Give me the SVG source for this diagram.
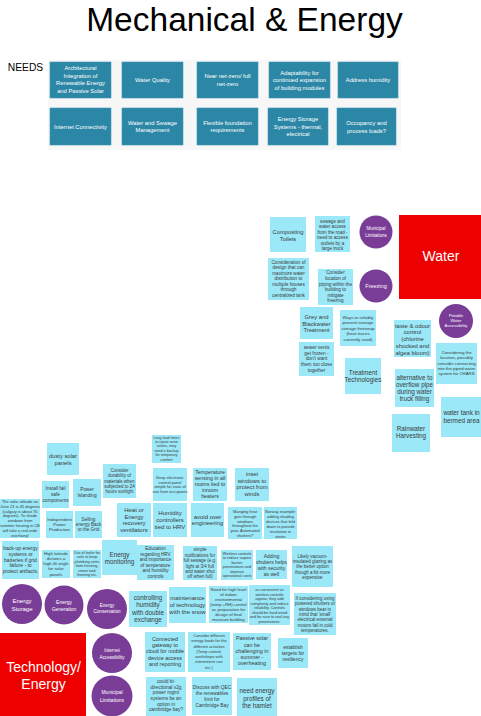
<svg xmlns="http://www.w3.org/2000/svg" width="481" height="716" viewBox="0 0 481 716">
<style>
text{font-family:"Liberation Sans",Arial,sans-serif;text-anchor:middle}
.n{fill:#9be8f8}
.t{fill:#3a3a3a}
.c{fill:#7a3d97}
.ct{fill:#fff}
.need{fill:#2c87a6;stroke:#3d98b5;stroke-width:0.6}
.nt{fill:#fff;font-size:5.8px}
.red{fill:#ee0000}
.rt{fill:#fff}
.bg{fill:#f7f7f7}
</style>
<rect width="481" height="716" fill="#fff"/>
<text x="244.5" y="30.5" style="font-size:33.5px" fill="#000">Mechanical &amp; Energy</text>
<text x="25.5" y="71" style="font-size:10.3px" fill="#000">NEEDS</text>
<rect class="bg" x="48" y="60" width="353" height="90"/>
<g id="need1"><rect class="need" x="50" y="62" width="61" height="36"/><text class="nt" x="80.5" y="70.3"><tspan x="80.5">Architectural</tspan><tspan x="80.5" dy="7.5">Integration of</tspan><tspan x="80.5" dy="7.5">Renewable Energy</tspan><tspan x="80.5" dy="7.5">and Passive Solar</tspan></text></g>
<g id="need2"><rect class="need" x="122" y="62" width="61" height="36"/><text class="nt" x="152.5" y="82">Water Quality</text></g>
<g id="need3"><rect class="need" x="197" y="62" width="61" height="36"/><text class="nt" x="227.5" y="78"><tspan x="227.5">Near net-zero/ full</tspan><tspan x="227.5" dy="7.7">net-zero</tspan></text></g>
<g id="need4"><rect class="need" x="269" y="62" width="61" height="36"/><text class="nt" x="299.5" y="74.7"><tspan x="299.5">Adaptability for</tspan><tspan x="299.5" dy="7.5">continued expansion</tspan><tspan x="299.5" dy="7.5">of building modules</tspan></text></g>
<g id="need5"><rect class="need" x="338" y="62" width="60" height="36"/><text class="nt" x="368" y="82">Address humidity</text></g>
<g id="need6"><rect class="need" x="50" y="108" width="61" height="37"/><text class="nt" x="80.5" y="128.7">Internet Connectivity</text></g>
<g id="need7"><rect class="need" x="122" y="108" width="61" height="37"/><text class="nt" x="152.5" y="124.7"><tspan x="152.5">Water and Sewage</tspan><tspan x="152.5" dy="7.4">Management</tspan></text></g>
<g id="need8"><rect class="need" x="197" y="108" width="61" height="37"/><text class="nt" x="227.5" y="124.7"><tspan x="227.5">Flexible foundation</tspan><tspan x="227.5" dy="7.4">requirements</tspan></text></g>
<g id="need9"><rect class="need" x="268" y="108" width="60" height="37"/><text class="nt" x="298" y="121"><tspan x="298">Energy Storage</tspan><tspan x="298" dy="7.6">Systems - thermal,</tspan><tspan x="298" dy="7.6">electrical</tspan></text></g>
<g id="need10"><rect class="need" x="337" y="108" width="59" height="37"/><text class="nt" x="366.5" y="125.3"><tspan x="366.5">Occupancy and</tspan><tspan x="366.5" dy="7.4">process loads?</tspan></text></g>

<g id="water"><rect class="red" x="399" y="215" width="82" height="84"/><text class="rt" x="441" y="261.3" style="font-size:14px">Water</text></g>
<g id="tech-energy"><rect class="red" x="0" y="633" width="86" height="83"/><text class="rt" x="43.5" y="672.3" style="font-size:14px"><tspan x="43.5">Technology/</tspan><tspan x="43.5" dy="16.7">Energy</tspan></text></g>

<g id="c-municipal-water"><circle class="c" cx="376" cy="232" r="16.5"/><text class="ct" x="376" y="230.2" style="font-size:4.5px"><tspan x="376">Municipal</tspan><tspan x="376" dy="6.6">Limitations</tspan></text></g>
<g id="c-freezing"><circle class="c" cx="376" cy="286" r="16.5"/><text class="ct" x="376" y="288" style="font-size:5.5px">Freezing</text></g>
<g id="c-potable"><circle class="c" cx="456" cy="321" r="17"/><text class="ct" x="456" y="317" style="font-size:4.2px"><tspan x="456">Potable</tspan><tspan x="456" dy="5.2">Water</tspan><tspan x="456" dy="5.2">Accessibility</tspan></text></g>
<g id="c-storage"><circle class="c" cx="22" cy="604" r="20"/><text class="ct" x="22" y="602.7" style="font-size:6px"><tspan x="22">Energy</tspan><tspan x="22" dy="8.3">Storage</tspan></text></g>
<g id="c-generation"><circle class="c" cx="64" cy="605" r="19.5"/><text class="ct" x="64" y="604.4" style="font-size:5px"><tspan x="64">Energy</tspan><tspan x="64" dy="6.3">Generation</tspan></text></g>
<g id="c-conservation"><circle class="c" cx="107" cy="609" r="20"/><text class="ct" x="107" y="606.6" style="font-size:4.6px"><tspan x="107">Energy</tspan><tspan x="107" dy="6.7">Conservation</tspan></text></g>
<g id="c-internet"><circle class="c" cx="112" cy="653" r="20"/><text class="ct" x="112" y="651.6" style="font-size:4.6px"><tspan x="112">Internet</tspan><tspan x="112" dy="7">Accessibility</tspan></text></g>
<g id="c-municipal-tech"><circle class="c" cx="112" cy="696" r="20.5"/><text class="ct" x="112" y="694.4" style="font-size:5px"><tspan x="112">Municipal</tspan><tspan x="112" dy="7.3">Limitations</tspan></text></g>

<g id="s1"><rect class="n" x="270" y="217" width="36" height="35"/><text class="t" x="288" y="234" style="font-size:5.8px"><tspan x="288">Composting</tspan><tspan x="288" dy="6.7">Toilets</tspan></text></g>
<g id="s2"><rect class="n" x="315" y="216" width="35" height="36"/><text class="t" x="332.5" y="222.7" style="font-size:4.6px"><tspan x="332.5">sewage and</tspan><tspan x="332.5" dy="5.5">water access</tspan><tspan x="332.5" dy="5.5">from the road -</tspan><tspan x="332.5" dy="5.5">need to access</tspan><tspan x="332.5" dy="5.5">outlets by a</tspan><tspan x="332.5" dy="5.5">large truck</tspan></text></g>
<g id="s3"><rect class="n" x="268" y="258" width="41" height="42"/><text class="t" x="288.5" y="263.8" style="font-size:4.7px"><tspan x="288.5">Consideration of</tspan><tspan x="288.5" dy="5.5">design that can</tspan><tspan x="288.5" dy="5.5">maximize water</tspan><tspan x="288.5" dy="5.5">distribution to</tspan><tspan x="288.5" dy="5.5">multiple houses</tspan><tspan x="288.5" dy="5.5">through</tspan><tspan x="288.5" dy="5.5">centralized tank</tspan></text></g>
<g id="s4"><rect class="n" x="318" y="269" width="35" height="36"/><text class="t" x="335.5" y="274.4" style="font-size:4.6px"><tspan x="335.5">Consider</tspan><tspan x="335.5" dy="5.6">location of</tspan><tspan x="335.5" dy="5.6">piping within the</tspan><tspan x="335.5" dy="5.6">building to</tspan><tspan x="335.5" dy="5.6">mitigate</tspan><tspan x="335.5" dy="5.6">freezing</tspan></text></g>
<g id="s5"><rect class="n" x="300" y="307" width="33" height="32"/><text class="t" x="316.5" y="319" style="font-size:5.8px"><tspan x="316.5">Grey and</tspan><tspan x="316.5" dy="6.7">Blackwater</tspan><tspan x="316.5" dy="6.7">Treatment</tspan></text></g>
<g id="s6"><rect class="n" x="340" y="310" width="36" height="36"/><text class="t" x="358" y="318.7" style="font-size:4.4px"><tspan x="358">Ways to reliably</tspan><tspan x="358" dy="5.5">prevent sewage</tspan><tspan x="358" dy="5.5">storage freezeup</tspan><tspan x="358" dy="5.5">(heat traces</tspan><tspan x="358" dy="5.5">currently used)</tspan></text></g>
<g id="s7"><rect class="n" x="394" y="320" width="37" height="37"/><text class="t" x="412.5" y="327.7" style="font-size:5.9px"><tspan x="412.5">taste &amp; odour</tspan><tspan x="412.5" dy="6.7">control</tspan><tspan x="412.5" dy="6.7">(chlorine</tspan><tspan x="412.5" dy="6.7">shocked and</tspan><tspan x="412.5" dy="6.7">algea bloom)</tspan></text></g>
<g id="s8"><rect class="n" x="299" y="342" width="35" height="34"/><text class="t" x="316.5" y="348.8" style="font-size:4.8px"><tspan x="316.5">sewer vents</tspan><tspan x="316.5" dy="5.8">get frozen -</tspan><tspan x="316.5" dy="5.8">don't want</tspan><tspan x="316.5" dy="5.8">them too close</tspan><tspan x="316.5" dy="5.8">together</tspan></text></g>
<g id="s9"><rect class="n" x="436" y="343" width="41" height="41"/><text class="t" x="456.5" y="354.1" style="font-size:4.3px"><tspan x="456.5">Considering the</tspan><tspan x="456.5" dy="5.3">location, possibly</tspan><tspan x="456.5" dy="5.3">consider connecting</tspan><tspan x="456.5" dy="5.3">into the piped water</tspan><tspan x="456.5" dy="5.3">system for CHARS</tspan></text></g>
<g id="s10"><rect class="n" x="345" y="358" width="36" height="36"/><text class="t" x="363" y="374.8" style="font-size:6.3px"><tspan x="363">Treatment</tspan><tspan x="363" dy="7.3">Technologies</tspan></text></g>
<g id="s11"><rect class="n" x="395" y="369" width="39" height="38"/><text class="t" x="414.5" y="379.5" style="font-size:6.3px"><tspan x="414.5">alternative to</tspan><tspan x="414.5" dy="7.3">overflow pipe</tspan><tspan x="414.5" dy="7.3">during water</tspan><tspan x="414.5" dy="7.3">truck filling</tspan></text></g>
<g id="s12"><rect class="n" x="441" y="397" width="40" height="40"/><text class="t" x="461.5" y="415" style="font-size:6.4px"><tspan x="461.5">water tank in</tspan><tspan x="461.5" dy="8">bermed area</tspan></text></g>
<g id="s13"><rect class="n" x="392" y="414" width="38" height="38"/><text class="t" x="411" y="430.8" style="font-size:6.3px"><tspan x="411">Rainwater</tspan><tspan x="411" dy="7.3">Harvesting</tspan></text></g>
<g id="s14"><rect class="n" x="47" y="443" width="32" height="32"/><text class="t" x="63" y="457.8" style="font-size:5.8px"><tspan x="63">dusty solar</tspan><tspan x="63" dy="6.7">panels</tspan></text></g>
<g id="s15"><rect class="n" x="152" y="435" width="29" height="28"/><text class="t" x="166.5" y="438.5" style="font-size:3.7px"><tspan x="166.5">Long lead times</tspan><tspan x="166.5" dy="4.4">to repair zone</tspan><tspan x="166.5" dy="4.4">valves, may</tspan><tspan x="166.5" dy="4.4">need a backup</tspan><tspan x="166.5" dy="4.4">for temporary</tspan><tspan x="166.5" dy="4.4">comfort</tspan></text></g>
<g id="s16"><rect class="n" x="103" y="464" width="33" height="34"/><text class="t" x="119.5" y="472" style="font-size:4.5px"><tspan x="119.5">Consider</tspan><tspan x="119.5" dy="5.3">durability of</tspan><tspan x="119.5" dy="5.3">materials when</tspan><tspan x="119.5" dy="5.3">subjected to 24</tspan><tspan x="119.5" dy="5.3">hours sunlight</tspan></text></g>
<g id="s17"><rect class="n" x="153" y="468" width="34" height="33"/><text class="t" x="170" y="478.7" style="font-size:4px"><tspan x="170">Keep electronic</tspan><tspan x="170" dy="4.8">control panel</tspan><tspan x="170" dy="4.8">simple for ease of</tspan><tspan x="170" dy="4.8">use from occupants</tspan></text></g>
<g id="s18"><rect class="n" x="193" y="468" width="34" height="33"/><text class="t" x="210" y="474.3" style="font-size:5.3px"><tspan x="210">Temperature</tspan><tspan x="210" dy="5.8">sensing in all</tspan><tspan x="210" dy="5.8">rooms tied to</tspan><tspan x="210" dy="5.8">inroom</tspan><tspan x="210" dy="5.8">heaters</tspan></text></g>
<g id="s19"><rect class="n" x="235" y="468" width="34" height="33"/><text class="t" x="252" y="476" style="font-size:5.8px"><tspan x="252">inset</tspan><tspan x="252" dy="6.7">windows to</tspan><tspan x="252" dy="6.7">protect from</tspan><tspan x="252" dy="6.7">winds</tspan></text></g>
<g id="s20"><rect class="n" x="42" y="481" width="27" height="27"/><text class="t" x="55.5" y="490.4" style="font-size:4.8px"><tspan x="55.5">Install fail</tspan><tspan x="55.5" dy="5.8">safe</tspan><tspan x="55.5" dy="5.8">components</tspan></text></g>
<g id="s21"><rect class="n" x="73" y="479" width="28" height="27"/><text class="t" x="87" y="490.8" style="font-size:4.8px"><tspan x="87">Power</tspan><tspan x="87" dy="5.8">Islanding</tspan></text></g>
<g id="s22"><rect class="n" x="0" y="499" width="40" height="39"/><text class="t" x="20" y="503" style="font-size:4px"><tspan x="20">The solar altitude on</tspan><tspan x="20" dy="4.8">June 21 is 45 degrees</tspan><tspan x="20" dy="4.8">(calgary is about 70</tspan><tspan x="20" dy="4.8">degrees). To shade</tspan><tspan x="20" dy="4.8">windows from</tspan><tspan x="20" dy="4.8">summer heating in CB</tspan><tspan x="20" dy="4.8">will take a real wide</tspan><tspan x="20" dy="4.8">overhang!</tspan></text></g>
<g id="s23"><rect class="n" x="46" y="511" width="27" height="27"/><text class="t" x="59.5" y="520.7" style="font-size:4.4px"><tspan x="59.5">Independent</tspan><tspan x="59.5" dy="5">Power</tspan><tspan x="59.5" dy="5">Production</tspan></text></g>
<g id="s24"><rect class="n" x="75" y="511" width="27" height="27"/><text class="t" x="88.5" y="520.8" style="font-size:4.6px"><tspan x="88.5">Selling</tspan><tspan x="88.5" dy="5">energy Back</tspan><tspan x="88.5" dy="5">to the Grid</tspan></text></g>
<g id="s25"><rect class="n" x="117" y="503" width="34" height="34"/><text class="t" x="134" y="512" style="font-size:6px"><tspan x="134">Heat or</tspan><tspan x="134" dy="6.7">Energy</tspan><tspan x="134" dy="6.7">recovery</tspan><tspan x="134" dy="6.7">ventilators</tspan></text></g>
<g id="s26"><rect class="n" x="153" y="503" width="34" height="34"/><text class="t" x="170" y="515.3" style="font-size:6px"><tspan x="170">Humidity</tspan><tspan x="170" dy="6.7">controllers</tspan><tspan x="170" dy="6.7">tied to HRV</tspan></text></g>
<g id="s27"><rect class="n" x="191" y="503" width="33" height="34"/><text class="t" x="207.5" y="518.7" style="font-size:6px"><tspan x="207.5">avoid over</tspan><tspan x="207.5" dy="6.7">engineering</tspan></text></g>
<g id="s28"><rect class="n" x="228" y="507" width="34" height="32"/><text class="t" x="245" y="513" style="font-size:4px"><tspan x="245">Manging heat</tspan><tspan x="245" dy="4.8">gain through</tspan><tspan x="245" dy="4.8">windows</tspan><tspan x="245" dy="4.8">throughout the</tspan><tspan x="245" dy="4.8">year.  Automated</tspan><tspan x="245" dy="4.8">shutters?</tspan></text></g>
<g id="s29"><rect class="n" x="264" y="507" width="33" height="32"/><text class="t" x="280.5" y="513" style="font-size:4px"><tspan x="280.5">Norway example:</tspan><tspan x="280.5" dy="4.9">adding shading</tspan><tspan x="280.5" dy="4.9">devices that fold</tspan><tspan x="280.5" dy="4.9">down to provide</tspan><tspan x="280.5" dy="4.9">insulation in</tspan><tspan x="280.5" dy="4.9">winter</tspan></text></g>
<g id="s30"><rect class="n" x="2" y="541" width="37" height="38"/><text class="t" x="20.5" y="550" style="font-size:5px"><tspan x="20.5">back-up energy</tspan><tspan x="20.5" dy="5.8">systems or</tspan><tspan x="20.5" dy="5.8">batteries if grid</tspan><tspan x="20.5" dy="5.8">failure - to</tspan><tspan x="20.5" dy="5.8">protect artifacts.</tspan></text></g>
<g id="s31"><rect class="n" x="42" y="550" width="28" height="28"/><text class="t" x="56" y="554.7" style="font-size:4.3px"><tspan x="56">High latitude</tspan><tspan x="56" dy="5.2">dictates a</tspan><tspan x="56" dy="5.2">high tilt angle</tspan><tspan x="56" dy="5.2">for solar</tspan><tspan x="56" dy="5.2">panels</tspan></text></g>
<g id="s32"><rect class="n" x="73" y="550" width="28" height="28"/><text class="t" x="87" y="553.5" style="font-size:3.7px"><tspan x="87">Use of boiler for</tspan><tspan x="87" dy="4.5">coils to keep</tspan><tspan x="87" dy="4.5">plumbing vents</tspan><tspan x="87" dy="4.5">from freezing,</tspan><tspan x="87" dy="4.5">sewer tank</tspan><tspan x="87" dy="4.5">freezing etc.</tspan></text></g>
<g id="s33"><rect class="n" x="102" y="540" width="35" height="35"/><text class="t" x="119.5" y="556.5" style="font-size:6.3px"><tspan x="119.5">Energy</tspan><tspan x="119.5" dy="7.4">monitoring</tspan></text></g>
<g id="s34"><rect class="n" x="137" y="545" width="37" height="35"/><text class="t" x="155.5" y="550.4" style="font-size:4.6px"><tspan x="155.5">Education</tspan><tspan x="155.5" dy="5.5">regarding HRV</tspan><tspan x="155.5" dy="5.5">and importance</tspan><tspan x="155.5" dy="5.5">of temperature</tspan><tspan x="155.5" dy="5.5">and humidity</tspan><tspan x="155.5" dy="5.5">controls</tspan></text></g>
<g id="s35"><rect class="n" x="183" y="546" width="34" height="34"/><text class="t" x="200" y="551.4" style="font-size:4.5px"><tspan x="200">simple</tspan><tspan x="200" dy="5.4">notifications for</tspan><tspan x="200" dy="5.4">full sewage (e.g.</tspan><tspan x="200" dy="5.4">light at 3/4 full</tspan><tspan x="200" dy="5.4">and water shut</tspan><tspan x="200" dy="5.4">off when full)</tspan></text></g>
<g id="s36"><rect class="n" x="221" y="550" width="32" height="30"/><text class="t" x="237" y="554.5" style="font-size:3.8px"><tspan x="237">Wireless controls</tspan><tspan x="237" dy="4.5">to reduce vapour</tspan><tspan x="237" dy="4.5">barrier</tspan><tspan x="237" dy="4.5">penetrations and</tspan><tspan x="237" dy="4.5">improve</tspan><tspan x="237" dy="4.5">operational costs</tspan></text></g>
<g id="s37"><rect class="n" x="256" y="550" width="31" height="29"/><text class="t" x="271.5" y="558.2" style="font-size:5px"><tspan x="271.5">Adding</tspan><tspan x="271.5" dy="5.8">shutters helps</tspan><tspan x="271.5" dy="5.8">with security</tspan><tspan x="271.5" dy="5.8">as well</tspan></text></g>
<g id="s38"><rect class="n" x="292" y="546" width="41" height="41"/><text class="t" x="312.5" y="557.5" style="font-size:4.5px"><tspan x="312.5">Likely vacuum-</tspan><tspan x="312.5" dy="5.4">insulated glazing as</tspan><tspan x="312.5" dy="5.4">the better option</tspan><tspan x="312.5" dy="5.4">though a bit more</tspan><tspan x="312.5" dy="5.4">expensive</tspan></text></g>
<g id="s39"><rect class="n" x="129" y="591" width="38" height="36"/><text class="t" x="148" y="599.9" style="font-size:6.3px"><tspan x="148">controlling</tspan><tspan x="148" dy="7.3">humidity</tspan><tspan x="148" dy="7.3">with double</tspan><tspan x="148" dy="7.3">exchange</tspan></text></g>
<g id="s40"><rect class="n" x="169" y="587" width="37" height="36"/><text class="t" x="187.5" y="599.8" style="font-size:6px"><tspan x="187.5">maintenance</tspan><tspan x="187.5" dy="7.3">of technology</tspan><tspan x="187.5" dy="7.3">with the snow</tspan></text></g>
<g id="s41"><rect class="n" x="209" y="586" width="39" height="37"/><text class="t" x="228.5" y="590.8" style="font-size:4.3px"><tspan x="228.5">Need for high level</tspan><tspan x="228.5" dy="5">of indoor</tspan><tspan x="228.5" dy="5">environmental</tspan><tspan x="228.5" dy="5">(temp +RH) control</tspan><tspan x="228.5" dy="5">as preparation for</tspan><tspan x="228.5" dy="5">design of final</tspan><tspan x="228.5" dy="5">museum building</tspan></text></g>
<g id="s42"><rect class="n" x="249" y="585" width="41" height="40"/><text class="t" x="269.5" y="591.2" style="font-size:3.8px"><tspan x="269.5">as convenient as</tspan><tspan x="269.5" dy="4.5">wireless controls</tspan><tspan x="269.5" dy="4.5">appear, they add</tspan><tspan x="269.5" dy="4.5">complexity and reduce</tspan><tspan x="269.5" dy="4.5">reliability.  Controls</tspan><tspan x="269.5" dy="4.5">should be hard wired</tspan><tspan x="269.5" dy="4.5">and be sure to seal any</tspan><tspan x="269.5" dy="4.5">penetrations.</tspan></text></g>
<g id="s43"><rect class="n" x="294" y="593" width="42" height="42"/><text class="t" x="315" y="599.8" style="font-size:4.5px"><tspan x="315">If considering using</tspan><tspan x="315" dy="5.4">powered shutters or</tspan><tspan x="315" dy="5.4">windows bear in</tspan><tspan x="315" dy="5.4">mind that 'small'</tspan><tspan x="315" dy="5.4">electrical external</tspan><tspan x="315" dy="5.4">motors fail in cold</tspan><tspan x="315" dy="5.4">temperatures.</tspan></text></g>
<g id="s44"><rect class="n" x="233" y="633" width="38" height="37"/><text class="t" x="252" y="640.2" style="font-size:5.4px"><tspan x="252">Passive solar</tspan><tspan x="252" dy="6.3">can be</tspan><tspan x="252" dy="6.3">challenging in</tspan><tspan x="252" dy="6.3">summer -</tspan><tspan x="252" dy="6.3">overheating</tspan></text></g>
<g id="s45"><rect class="n" x="278" y="638" width="30" height="30"/><text class="t" x="293" y="649" style="font-size:5px"><tspan x="293">establish</tspan><tspan x="293" dy="6">targets for</tspan><tspan x="293" dy="6">resiliency</tspan></text></g>
<g id="s46"><rect class="n" x="145" y="632" width="40" height="40"/><text class="t" x="165" y="640.8" style="font-size:5.4px"><tspan x="165">Connected</tspan><tspan x="165" dy="6.3">gateway to</tspan><tspan x="165" dy="6.3">cloud for mobile</tspan><tspan x="165" dy="6.3">device access</tspan><tspan x="165" dy="6.3">and reporting</tspan></text></g>
<g id="s47"><rect class="n" x="188" y="632" width="42" height="40"/><text class="t" x="209" y="636.9" style="font-size:4px"><tspan x="209">Consider different</tspan><tspan x="209" dy="5.3">energy loads for the</tspan><tspan x="209" dy="5.3">different activities</tspan><tspan x="209" dy="5.3">(Temp control,</tspan><tspan x="209" dy="5.3">workshops with</tspan><tspan x="209" dy="5.3">intermittent use</tspan><tspan x="209" dy="5.3">etc.)</tspan></text></g>
<g id="s48"><rect class="n" x="146" y="677" width="40" height="39"/><text class="t" x="166" y="683.1" style="font-size:4.8px"><tspan x="166">could bi-</tspan><tspan x="166" dy="5.6">directional v2g</tspan><tspan x="166" dy="5.6">power mgmt</tspan><tspan x="166" dy="5.6">systems be an</tspan><tspan x="166" dy="5.6">option in</tspan><tspan x="166" dy="5.6">cambridge bay?</tspan></text></g>
<g id="s49"><rect class="n" x="192" y="677" width="40" height="38"/><text class="t" x="212" y="688.8" style="font-size:4.8px"><tspan x="212">Discuss with QEC</tspan><tspan x="212" dy="6">the renewables</tspan><tspan x="212" dy="6">limit for</tspan><tspan x="212" dy="6">Cambridge Bay</tspan></text></g>
<g id="s50"><rect class="n" x="237" y="678" width="40" height="38"/><text class="t" x="257" y="693.2" style="font-size:6.3px"><tspan x="257">need energy</tspan><tspan x="257" dy="7.5">profiles of</tspan><tspan x="257" dy="7.5">the hamlet</tspan></text></g>
<g id="connectors"/>
</svg>
